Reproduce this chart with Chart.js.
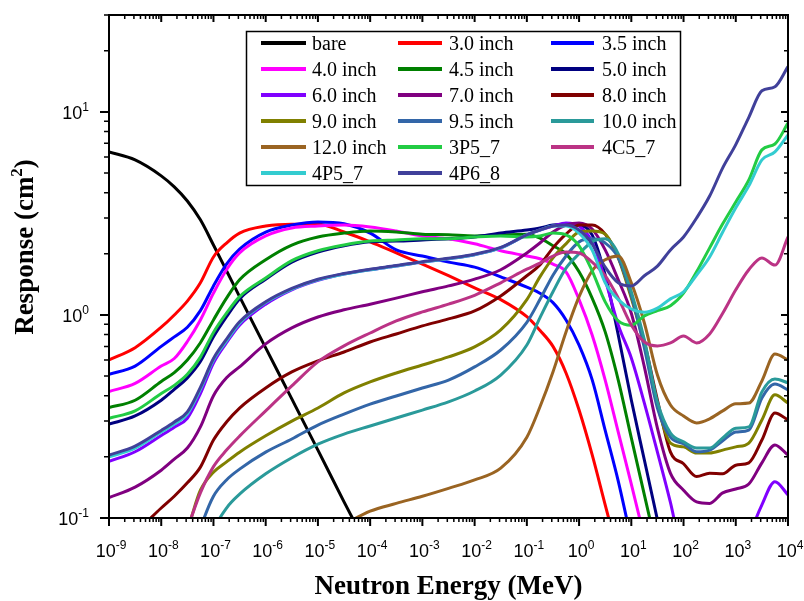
<!DOCTYPE html>
<html>
<head>
<meta charset="utf-8">
<script src="https://cdn.jsdelivr.net/npm/chart.js@4.4.0/dist/chart.umd.min.js"></script>
<style>
html,body{margin:0;padding:0;background:#fff;}
#wrap{width:804px;height:601px;}
</style>
</head>
<body>
<div id="wrap"><canvas id="c" width="804" height="601"></canvas></div>
<script>
// ---- data (log10 of neutron energy in MeV, response in cm^2) ----
const logEnergy = [-9,-8.5,-8,-7.75,-7.5,-7.25,-7,-6.75,-6.5,-6,-5.5,-5,-4.5,-4,-3.5,-3,-2.5,-2,-1.5,-1,
                   -0.75,-0.5,-0.25,0,0.25,0.5,0.75,1,1.25,1.5,1.75,2,2.25,2.5,2.75,3,3.25,3.5,3.75,4];

const seriesLabels = ['bare','3.0 inch','3.5 inch','4.0 inch','4.5 inch','5.0 inch','6.0 inch','7.0 inch',
                      '8.0 inch','9.0 inch','9.5 inch','10.0 inch','12.0 inch','3P5_7','4C5_7','4P5_7','4P6_8'];
const seriesColors = ['#000000','#ff0000','#0000ff','#ff00ff','#008000','#000080','#8000ff','#800080',
                      '#800000','#808000','#3366a8','#2a9a9a','#9a6422','#22cc44','#bb3385','#33ccd0','#40409a'];

const N = null;
const bare    = [6.35,5.8,4.84,4.27,3.64,2.94,2.21,1.65,1.23,0.688,0.386,0.216,0.12,0.068,N,N,N,N,N,N,N,N,N,N,N,N,N,N,N,N,N,N,N,N,N,N,N,N,N,N];
const inch30  = [0.60,0.69,0.87,1.0,1.17,1.44,1.93,2.26,2.53,2.74,2.80,2.80,2.56,2.29,2.02,1.78,1.56,1.36,1.19,0.98,0.84,0.70,0.518,0.34,0.205,0.116,0.066,N,N,N,N,N,N,N,N,N,N,N,N,N];
const inch35  = [0.51,0.56,0.70,0.78,0.87,1.05,1.39,1.78,2.11,2.56,2.77,2.87,2.81,2.53,2.09,1.95,1.82,1.72,1.54,1.37,1.28,1.15,0.945,0.71,0.48,0.27,0.152,0.078,N,N,N,N,N,N,N,N,N,N,N,N];
const inch40  = [0.42,0.46,0.56,0.61,0.74,0.945,1.28,1.67,2.02,2.45,2.68,2.74,2.77,2.71,2.59,2.45,2.37,2.24,2.07,1.95,1.89,1.78,1.63,1.19,0.797,0.478,0.265,0.147,0.08,N,N,N,N,N,N,N,N,N,N,N];
const inch45  = [0.35,0.38,0.47,0.52,0.60,0.73,0.945,1.21,1.49,1.87,2.21,2.42,2.53,2.59,2.56,2.50,2.48,2.45,2.48,2.50,2.39,2.19,2.0,1.63,1.21,0.825,0.478,0.248,0.13,0.068,N,N,N,N,N,N,N,N,N,N];
const inch50  = [0.29,0.318,0.38,0.43,0.49,0.59,0.78,0.98,1.20,1.50,1.82,2.04,2.19,2.29,2.31,2.34,2.37,2.42,2.53,2.62,2.68,2.77,2.80,2.77,2.48,1.57,0.797,0.381,0.193,0.098,0.05,N,N,N,N,N,N,N,N,N];
const inch60  = [0.19,0.212,0.255,0.28,0.31,0.41,0.58,0.73,0.89,1.13,1.33,1.48,1.59,1.67,1.74,1.82,1.89,1.98,2.14,2.48,2.62,2.74,2.84,2.74,2.29,1.49,0.893,0.614,0.368,0.211,0.119,0.062,0.05,0.045,0.045,0.05,0.08,0.116,0.151,0.13];
const inch70  = [0.126,0.142,0.172,0.195,0.221,0.281,0.40,0.49,0.555,0.72,0.863,0.977,1.06,1.13,1.21,1.30,1.39,1.50,1.67,2.02,2.26,2.56,2.77,2.84,2.65,2.09,1.49,1.02,0.555,0.277,0.166,0.137,0.12,0.118,0.133,0.139,0.147,0.187,0.229,0.204];
const inch80  = [0.07,0.085,0.112,0.128,0.149,0.178,0.242,0.297,0.348,0.437,0.524,0.594,0.657,0.736,0.806,0.883,0.956,1.046,1.24,1.56,1.76,2.14,2.50,2.77,2.77,2.50,1.93,1.24,0.736,0.381,0.211,0.185,0.16,0.166,0.165,0.182,0.187,0.242,0.329,0.304];
const inch90  = [N,N,0.05,0.065,0.088,0.137,0.168,0.189,0.211,0.254,0.30,0.348,0.413,0.468,0.518,0.567,0.621,0.696,0.844,1.19,1.54,1.91,2.24,2.56,2.59,2.5,1.91,1.21,0.711,0.36,0.234,0.224,0.209,0.209,0.216,0.224,0.234,0.304,0.404,0.368];
const inch95  = [N,N,N,N,0.055,0.089,0.128,0.154,0.174,0.211,0.245,0.287,0.325,0.364,0.399,0.437,0.478,0.555,0.672,0.92,1.19,1.57,1.95,2.29,2.37,2.26,1.91,1.25,0.688,0.348,0.25,0.232,0.212,0.216,0.24,0.265,0.271,0.39,0.457,0.427];
const inch100 = [N,N,N,N,N,0.055,0.087,0.112,0.131,0.165,0.198,0.231,0.259,0.284,0.311,0.340,0.373,0.422,0.506,0.711,0.967,1.30,1.70,2.0,2.29,2.37,2.0,1.30,0.753,0.373,0.262,0.237,0.221,0.221,0.248,0.277,0.281,0.418,0.484,0.463];
const inch120 = [N,N,N,N,N,N,N,N,N,N,N,0.08,0.093,0.108,0.118,0.128,0.14,0.154,0.176,0.25,0.352,0.524,0.825,1.23,1.65,1.87,1.95,1.44,0.913,0.506,0.36,0.318,0.294,0.308,0.337,0.365,0.368,0.473,0.642,0.60];
const s3P5_7  = [0.31,0.337,0.41,0.45,0.51,0.62,0.82,1.02,1.23,1.52,1.85,2.07,2.21,2.31,2.34,2.37,2.37,2.42,2.45,2.42,2.45,2.53,2.48,2.19,1.65,1.16,0.935,0.89,0.99,1.05,1.11,1.28,1.63,2.14,2.81,3.6,4.62,6.5,6.95,8.8];
const s4C5_7  = [N,N,N,0.062,0.089,0.133,0.179,0.216,0.253,0.337,0.447,0.587,0.704,0.815,0.934,1.035,1.13,1.25,1.44,1.68,1.80,1.95,2.04,2.02,1.82,1.56,1.21,0.893,0.736,0.704,0.728,0.788,0.728,0.806,1.02,1.33,1.67,1.91,1.76,2.42];
const s4P5_7  = [0.20,0.221,0.265,0.29,0.325,0.43,0.60,0.745,0.91,1.15,1.34,1.49,1.59,1.67,1.74,1.82,1.89,1.98,2.14,2.48,2.62,2.74,2.74,2.53,2.09,1.44,1.19,1.07,1.03,1.08,1.20,1.30,1.57,1.93,2.56,3.37,4.32,5.8,6.35,7.7];
const s4P6_8  = [0.204,0.226,0.27,0.297,0.333,0.44,0.61,0.76,0.925,1.16,1.35,1.50,1.60,1.68,1.75,1.83,1.90,1.99,2.15,2.48,2.62,2.74,2.77,2.62,2.24,1.72,1.44,1.39,1.56,1.74,2.09,2.42,3.0,3.85,5.3,6.9,9.4,12.7,13.3,16.7];

const seriesValues = [bare,inch30,inch35,inch40,inch45,inch50,inch60,inch70,inch80,inch90,inch95,inch100,inch120,s3P5_7,s4C5_7,s4P5_7,s4P6_8];

const xDecades = [-9,-8,-7,-6,-5,-4,-3,-2,-1,0,1,2,3,4];
const yDecades = [-1,0,1];

// ---- build datasets ----
const datasets = seriesValues.map((vals, i) => ({
  label: seriesLabels[i],
  data: logEnergy.map((le, j) => ({x: Math.pow(10, le), y: vals[j]})),
  borderColor: seriesColors[i],
  backgroundColor: seriesColors[i],
  borderWidth: 3,
  pointRadius: 0,
  fill: false,
  cubicInterpolationMode: 'monotone',
  spanGaps: false,
  clip: 0,
  order: seriesValues.length - i
}));

const SANS = '"Liberation Sans", Arial, sans-serif';
const SERIF = '"Liberation Serif", "Times New Roman", serif';

function drawPow(ctx, base, exp, cx, baseline, align, bigSize, smallSize) {
  ctx.font = bigSize + 'px ' + SANS;
  const wb = ctx.measureText(base).width;
  ctx.font = smallSize + 'px ' + SANS;
  const we = ctx.measureText(exp).width;
  const total = wb + we;
  let x0 = align === 'center' ? cx - total / 2 : cx - total;
  ctx.textAlign = 'left';
  ctx.textBaseline = 'alphabetic';
  ctx.font = bigSize + 'px ' + SANS;
  ctx.fillText(base, x0, baseline);
  ctx.font = smallSize + 'px ' + SANS;
  ctx.fillText(exp, x0 + wb, baseline - bigSize * 0.45);
}

const decorPlugin = {
  id: 'decor',
  afterDatasetsDraw(chart) {
    const ctx = chart.ctx;
    const ca = chart.chartArea;
    const xs = chart.scales.x, ys = chart.scales.y;
    ctx.save();
    ctx.fillStyle = '#000';
    ctx.strokeStyle = '#000';
    // frame
    ctx.lineWidth = 2;
    ctx.strokeRect(ca.left, ca.top, ca.right - ca.left, ca.bottom - ca.top);
    // x ticks
    for (const n of xDecades) {
      for (let m = 1; m <= 9; m++) {
        if (n === 4 && m > 1) break;
        const px = xs.getPixelForValue(m * Math.pow(10, n));
        const major = m === 1;
        ctx.lineWidth = major ? 2 : 1.5;
        ctx.beginPath();
        ctx.moveTo(px, ca.bottom); ctx.lineTo(px, ca.bottom + (major ? 8 : 4));
        ctx.moveTo(px, ca.top); ctx.lineTo(px, ca.top + (major ? 7 : 4));
        ctx.stroke();
      }
    }
    // y ticks
    for (const n of yDecades) {
      for (let m = 1; m <= 9; m++) {
        const v = m * Math.pow(10, n);
        if (v > ys.max + 1e-9) break;
        const py = ys.getPixelForValue(v);
        const major = m === 1;
        ctx.lineWidth = major ? 2 : 1.5;
        ctx.beginPath();
        ctx.moveTo(ca.left, py); ctx.lineTo(ca.left - (major ? 9 : 5), py);
        ctx.moveTo(ca.right, py); ctx.lineTo(ca.right - (major ? 7 : 4), py);
        ctx.stroke();
      }
    }
    // tick labels
    for (const n of xDecades) {
      const px = xs.getPixelForValue(Math.pow(10, n));
      drawPow(ctx, '10', String(n), px + 2, 557, 'center', 18, 12);
    }
    for (const n of yDecades) {
      const py = ys.getPixelForValue(Math.pow(10, n));
      drawPow(ctx, '10', String(n), 89, py + 7, 'right', 18, 12);
    }
    // axis titles
    ctx.font = 'bold 27px ' + SERIF;
    ctx.textAlign = 'center';
    ctx.textBaseline = 'alphabetic';
    ctx.fillText('Neutron Energy (MeV)', (ca.left + ca.right) / 2, 594);
    ctx.save();
    ctx.translate(33, 247);
    ctx.rotate(-Math.PI / 2);
    ctx.font = 'bold 27px ' + SERIF;
    const t1 = 'Response (cm';
    const w1 = ctx.measureText(t1).width;
    ctx.font = 'bold 17px ' + SERIF;
    const w2 = ctx.measureText('2').width;
    ctx.font = 'bold 27px ' + SERIF;
    const w3 = ctx.measureText(')').width;
    const tot = w1 + w2 + w3;
    let x0 = -tot / 2;
    ctx.textAlign = 'left';
    ctx.fillText(t1, x0, 0);
    ctx.font = 'bold 17px ' + SERIF;
    ctx.fillText('2', x0 + w1, -11);
    ctx.font = 'bold 27px ' + SERIF;
    ctx.fillText(')', x0 + w1 + w2, 0);
    ctx.restore();
    // legend
    const box = {l: 246.5, t: 31.5, r: 680.5, b: 185.5};
    ctx.fillStyle = '#fff';
    ctx.fillRect(box.l, box.t, box.r - box.l, box.b - box.t);
    ctx.lineWidth = 1.5;
    ctx.strokeStyle = '#000';
    ctx.strokeRect(box.l, box.t, box.r - box.l, box.b - box.t);
    const cols = [{l1: 261, l2: 306, tx: 312}, {l1: 398, l2: 442, tx: 449}, {l1: 551, l2: 594, tx: 602}];
    ctx.font = '20px ' + SERIF;
    ctx.textAlign = 'left';
    seriesLabels.forEach((lab, i) => {
      const row = Math.floor(i / 3), col = i % 3;
      const cy = 43 + row * 26;
      const c = cols[col];
      ctx.strokeStyle = seriesColors[i];
      ctx.lineWidth = 4;
      ctx.beginPath();
      ctx.moveTo(c.l1, cy); ctx.lineTo(c.l2, cy);
      ctx.stroke();
      ctx.fillStyle = '#000';
      ctx.fillText(lab, c.tx, cy + 7);
    });
    ctx.restore();
  }
};

new Chart(document.getElementById('c'), {
  type: 'line',
  data: {datasets},
  options: {
    responsive: false,
    devicePixelRatio: 1,
    animation: false,
    layout: {padding: {top: 15, right: 16, left: 0, bottom: 0}},
    plugins: {legend: {display: false}, tooltip: {enabled: false}},
    scales: {
      x: {
        type: 'logarithmic', min: 1e-9, max: 1e4,
        grid: {display: false}, border: {display: false},
        ticks: {display: false},
        afterFit(s) { s.height = 83; }
      },
      y: {
        type: 'logarithmic', min: 0.1, max: 30,
        grid: {display: false}, border: {display: false},
        ticks: {display: false},
        afterFit(s) { s.width = 109; }
      }
    }
  },
  plugins: [decorPlugin]
});
</script>
</body>
</html>
